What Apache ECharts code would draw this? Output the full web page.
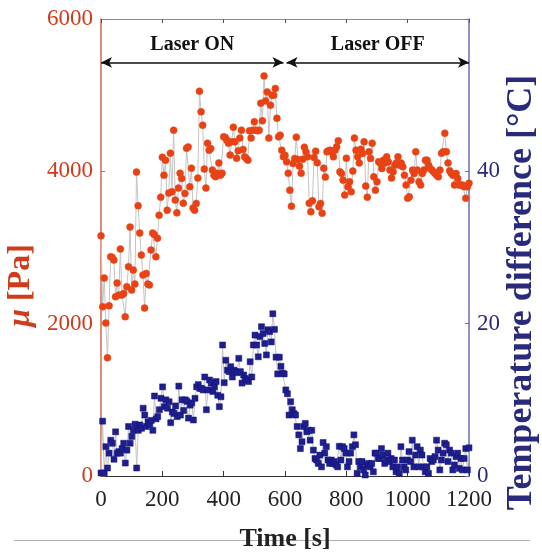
<!DOCTYPE html>
<html><head><meta charset="utf-8">
<script src="https://cdn.jsdelivr.net/npm/echarts@6/dist/echarts.min.js"></script>
<style>html,body{margin:0;padding:0;background:#fff}#c{width:542px;height:554px}</style>
</head><body><div id="c"></div>
<script>
// ---- data ----
const timeRange = [0, 1200];
const xTickStep = 200;
const muTicks = [0, 2000, 4000, 6000];
const tempTicks = [0, 20, 40, 60];
const phaseLabels = ['Laser ON', 'Laser OFF'];
const phaseBounds = [[0, 595], [605, 1200]];
const phaseArrowLevel = 5430;

// shear modulus mu [Pa], evenly sampled over 0-1200 s
const muValues = [
3154,2222,2598,2008,1552,2235,2878,2870,2835,2353,2533,2375,2979,2375,2397,2091,2485,2747,3268,2441,
2703,2520,3990,3548,3189,2900,2638,2205,2660,2520,2507,2966,3189,3170,2878,3123,3425,3661,4186,3950,
4147,3490,3714,4239,3731,4541,3622,3455,3780,3976,3906,3582,3710,4304,4320,3797,4042,3517,3490,3578,
3911,5052,4781,4606,4029,3780,4370,4278,4300,4016,3950,3930,3976,4111,3950,3976,4453,
4444,4409,4370,4213,4387,4580,4387,4173,4270,4436,4541,4287,4190,4169,4147,4532,4436,4541,4650,4541,
4532,4541,4895,4663,5253,4925,5043,4436,4869,5000,5000,5088,4698,4453,4475,4278,4190,4210,4125,3976,
3753,3543,4103,4169,4449,4156,4068,3976,4160,4317,4256,4190,3582,3469,3613,4182,4265,4112,3534,3578,
3451,4042,3924,4256,4270,4278,4256,4190,4278,4322,4401,3994,3972,3884,3688,
4173,3797,3863,3731,4003,4436,4278,4190,4111,4291,4234,4387,3806,3661,4256,4169,4370,3928,3753,3863,
4125,4108,4038,4147,4108,4190,4125,4016,3911,3994,4081,4108,4190,4081,4108,4059,3950,3819,3648,3666,
3884,4016,3972,4256,4016,3863,3819,3972,4016,4147,4147,4081,4038,4016,3994,3972,3950,3928,4016,4239,
4256,4501,4256,4111,4007,3976,3950,3819,3972,3906,3819,3819,3819,3797,3648,3797,3845
];

// temperature difference [°C], evenly sampled over 0-1200 s
const tempValues = [
0.4,7.2,0.4,3.85,1.05,3.0,4.7,4.3,2.2,5.8,3.0,3.2,3.0,3.6,4.3,1.7,3.4,6.5,4.3,5.2,
6.0,6.8,1.05,6.0,6.7,6.26,8.9,8.0,6.5,7.1,6.8,7.3,6.0,10.5,7.5,7.8,8.7,10.2,11.7,9.1,
10.0,8.9,9.75,7.0,8.4,8.2,9.2,7.8,11.8,8.0,10.0,8.6,10.0,9.8,7.6,9.3,9.6,7.35,10.2,11.7,
12.0,11.5,11.5,11.3,13.0,8.7,11.3,12.6,12.2,11.1,11.7,12.4,10.6,9.1,10.4,
17.2,12.25,15.2,13.9,13.7,14.35,13.0,13.9,13.7,13.56,15.45,13.7,12.2,13.26,12.8,12.6,12.4,15.0,13.0,17.2,
18.5,17.2,15.65,18.3,19.6,18.7,17.4,15.9,19.2,18.95,17.6,21.3,19.25,15.6,13.4,15.6,14.4,13.5,13.4,11.3,
10.8,8.0,9.75,8.7,8.2,8.0,6.5,5.4,3.6,4.5,6.5,6.9,5.8,6.0,4.7,6.0,3.4,2.3,2.1,1.65,
2.75,1.2,4.4,3.0,3.85,2.1,1.65,2.1,1.65,1.9,1.45,1.2,3.9,2.1,
3.85,3.6,3.0,1.2,1.9,3.0,3.85,5.4,4.1,0.35,1.9,1.2,1.9,0.8,0.13,1.45,1.65,1.2,1.65,0.55,
3.0,3.0,2.3,2.3,3.6,2.75,1.65,2.1,3.0,1.9,2.3,1.2,2.1,0.55,1.2,0.35,3.85,2.1,1.2,0.8,
2.1,3.2,1.9,4.7,1.2,2.75,3.85,1.2,3.4,2.75,1.2,0.55,1.2,0.35,2.3,1.9,2.1,2.55,4.7,3.4,
0.8,2.1,3.0,4.3,4.1,1.9,3.4,3.0,0.8,1.45,2.55,3.0,1.0,2.3,0.8,2.3,3.6,0.8,3.7
];

// ---- chart ----
const serif = 'Liberation Serif';
const span = timeRange[1] - timeRange[0];
const muData = muValues.map((v, i) => [timeRange[0] + i * span / (muValues.length - 1), v]);
const tempData = tempValues.map((v, i) => [timeRange[0] + i * span / (tempValues.length - 1), v]);

const redTxt = '#cf3b1b', blueTxt = '#2a2a7c';
const plain = v => String(v);

const chart = echarts.init(document.getElementById('c'), null, {renderer: 'canvas'});
chart.setOption({
  animation: false,
  backgroundColor: '#fff',
  grid: {left: 101, right: 73, top: 19, bottom: 78, containLabel: false, outerBoundsMode: 'none'},
  graphic: [{
    type: 'line', z: -10, silent: true,
    shape: {x1: 14, y1: 540.5, x2: 530, y2: 540.5},
    style: {stroke: '#b0b0b0', lineWidth: 1}
  }],
  xAxis: [{
    type: 'value', min: timeRange[0], max: timeRange[1], interval: xTickStep,
    position: 'bottom',
    axisLine: {show: true, onZero: false, lineStyle: {color: '#333', width: 1.2}},
    axisTick: {show: true, inside: true, length: 5, lineStyle: {color: '#333'}},
    axisLabel: {color: '#222', fontFamily: serif, fontSize: 23, margin: 12, formatter: plain,
      showMinLabel: true, showMaxLabel: true, hideOverlap: false},
    splitLine: {show: false},
    name: 'Time [s]', nameLocation: 'middle', nameGap: 50, nameMoveOverlap: false,
    nameTextStyle: {color: '#222', fontFamily: serif, fontWeight: 'bold', fontSize: 26}
  }, {
    type: 'value', min: timeRange[0], max: timeRange[1], interval: xTickStep,
    position: 'top',
    axisLine: {show: true, onZero: false, lineStyle: {color: '#8a8a8a', width: 1.2}},
    axisTick: {show: true, inside: true, length: 4, lineStyle: {color: '#555'}},
    axisLabel: {show: false}, splitLine: {show: false}
  }],
  yAxis: [{
    type: 'value', min: muTicks[0], max: muTicks[muTicks.length - 1], interval: muTicks[1] - muTicks[0],
    position: 'left',
    axisLine: {show: true, onZero: false, lineStyle: {color: '#d26a4e', width: 1.5}},
    axisTick: {show: true, inside: true, length: 4, lineStyle: {color: '#d26a4e'}},
    axisLabel: {color: redTxt, fontFamily: serif, fontSize: 23, margin: 8, formatter: plain,
      showMinLabel: true, showMaxLabel: true},
    splitLine: {show: false},
    name: '{i|μ} {b|[Pa]}', nameLocation: 'middle', nameGap: 64, nameMoveOverlap: false,
    nameTextStyle: {color: redTxt, fontFamily: serif, fontWeight: 'bold', fontSize: 32, padding: [0, 76, 0, 0],
      rich: {i: {fontStyle: 'italic', fontWeight: 'bold', fontFamily: serif, fontSize: 32, color: redTxt},
             b: {fontWeight: 'bold', fontFamily: serif, fontSize: 32, color: redTxt}}}
  }, {
    type: 'value', min: tempTicks[0], max: tempTicks[tempTicks.length - 1], interval: tempTicks[1] - tempTicks[0],
    position: 'right',
    axisLine: {show: true, onZero: false, lineStyle: {color: '#6b6bb2', width: 1.5}},
    axisTick: {show: true, inside: true, length: 4, lineStyle: {color: '#6b6bb2'}},
    axisLabel: {color: blueTxt, fontFamily: serif, fontSize: 23, margin: 8, showMinLabel: true,
      formatter: v => (v === tempTicks[tempTicks.length - 1] ? '' : String(v))},
    splitLine: {show: false},
    name: 'Temperature difference [°C]', nameLocation: 'middle', nameGap: 35, nameMoveOverlap: false,
    nameTextStyle: {color: blueTxt, fontFamily: serif, fontWeight: 'bold', fontSize: 36, padding: [0, 90, 0, 0]}
  }],
  series: [{
    type: 'line', name: 'mu', xAxisIndex: 0, yAxisIndex: 0, data: muData,
    symbol: 'circle', symbolSize: 7, showAllSymbol: true,
    lineStyle: {color: '#c4c4c4', width: 1},
    itemStyle: {color: '#ec4014', borderColor: '#d8501f', borderWidth: 0.5},
    z: 3,
    markLine: {
      silent: true, symbol: ['arrow', 'arrow'], symbolSize: [8, 11], precision: 0,
      lineStyle: {color: '#111', width: 1.5, type: 'solid'},
      label: {show: true, position: 'insideMiddleTop', distance: 8, color: '#111', fontFamily: serif, fontWeight: 'bold', fontSize: 20},
      data: phaseBounds.map((b, k) => [
        {coord: [b[0], phaseArrowLevel], name: phaseLabels[k], label: {formatter: phaseLabels[k]}},
        {coord: [b[1], phaseArrowLevel]}
      ])
    }
  }, {
    type: 'line', name: 'temp', xAxisIndex: 0, yAxisIndex: 1, data: tempData,
    symbol: 'rect', symbolSize: 6, showAllSymbol: true,
    lineStyle: {color: '#c4c4c4', width: 1},
    itemStyle: {color: '#1e1e8e', borderColor: '#14147a', borderWidth: 0.5},
    z: 3
  }]
});
</script>
</body></html>
